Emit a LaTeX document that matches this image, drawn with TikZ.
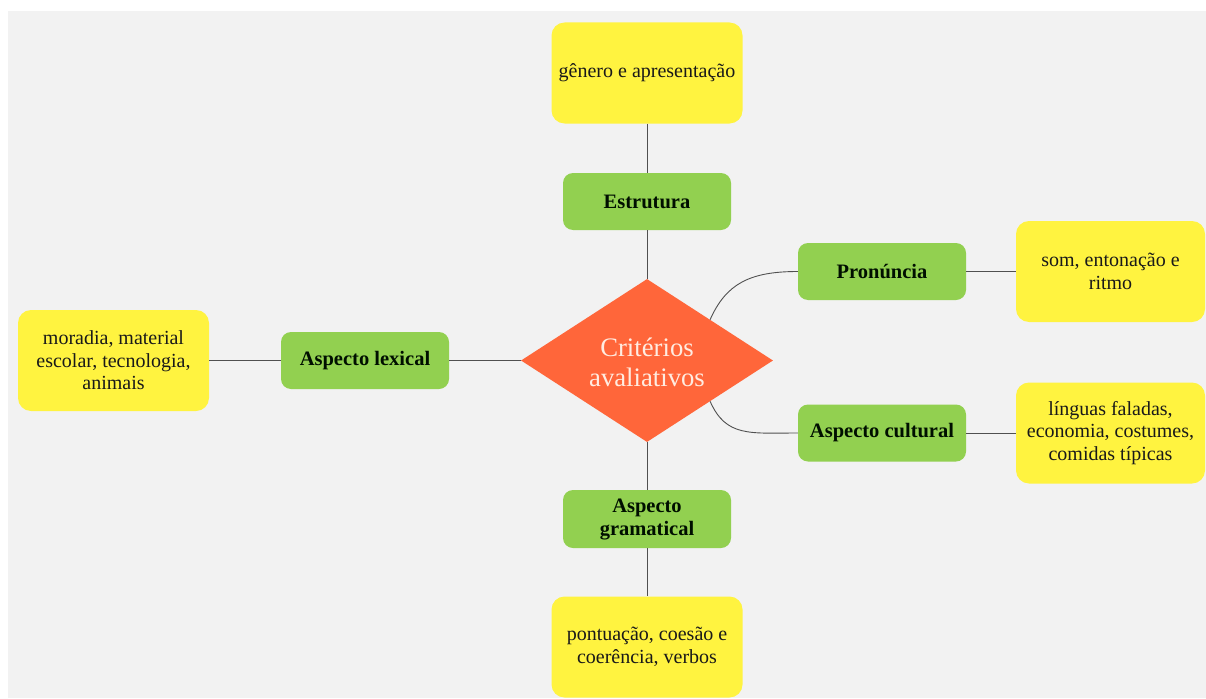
\documentclass[tikz,border=0pt]{standalone}
\usepackage{fontspec}
\setmainfont{Liberation Serif}
\newfontfamily\diagserif{Liberation Serif}
\usetikzlibrary{shapes.geometric}
\definecolor{bgray}{HTML}{F2F2F2}
\definecolor{leafyellow}{RGB}{255,243,64}
\definecolor{branchgreen}{RGB}{146,208,80}
\definecolor{huborange}{RGB}{255,102,58}
\definecolor{huptext}{RGB}{255,236,225}
\definecolor{linkgray}{RGB}{80,80,80}
\begin{document}
\begin{tikzpicture}[x=1pt,y=-1pt,
  leaf/.style={rectangle, rounded corners=13pt, fill=leafyellow, inner sep=0pt,
    minimum width=191pt, minimum height=101pt, align=center,
    font=\diagserif\fontsize{20}{22.5}\selectfont, text=black!90},
  branch/.style={rectangle, rounded corners=10pt, fill=branchgreen, inner sep=0pt,
    minimum width=168pt, minimum height=57pt, align=center,
    font=\diagserif\fontsize{20.5}{23}\selectfont\bfseries, text=black!85!green!40!black},
  hub/.style={diamond, fill=huborange, inner sep=0pt,
    minimum width=252pt, minimum height=163pt},
  link/.style={draw=linkgray, line width=0.9pt}]
  % page and backdrop
  \useasboundingbox (0,0) rectangle (1206,698);
  \fill[white] (0,0) rectangle (1206,698);
  \fill[bgray] (8,11) rectangle (1206,698);

  % central hub
  \node[hub] (crit) at (647,360.5) {};
  \node[align=center, text=huptext, font=\diagserif\fontsize{26.7}{30}\selectfont] (critlabel) at (647,362) {Critérios\\avaliativos};

  % branches
  \node[branch] (est)  at (647,201.5) {Estrutura};
  \node[branch] (pron) at (882,271.5) {Pronúncia};
  \node[branch] (cult) at (882,433) {Aspecto cultural};
  \node[branch] (lex)  at (365,360.5) {Aspecto lexical};
  \node[branch, minimum height=58pt] (gram) at (647,519) {Aspecto\\gramatical};

  % leaves
  \node[leaf] (gen)  at (647,73)      {gênero e apresentação};
  \node[leaf, minimum width=189pt] (som)  at (1110.5,271.5) {som, entonação e\\ritmo};
  \node[leaf, minimum width=189pt] (ling) at (1110.5,433) {línguas faladas,\\economia, costumes,\\comidas típicas};
  \node[leaf] (mor)  at (113.5,360.5) {moradia, material\\escolar, tecnologia,\\animais};
  \node[leaf] (pont) at (647,647)     {pontuação, coesão e\\coerência, verbos};

  % connectors
  \draw[link] (gen.south) -- (est.north);
  \draw[link] (est.south) -- (crit.north);
  \draw[link] (crit.west) -- (lex.east);
  \draw[link] (lex.west) -- (mor.east);
  \draw[link] (crit.south) -- (gram.north);
  \draw[link] (gram.south) -- (pont.north);
  \draw[link] (crit.north east) .. controls +(16,-36) and +(-48,0) .. (pron.west);
  \draw[link] (crit.south east) .. controls +(16,36) and +(-48,0) .. (cult.west);
  \draw[link] (pron.east) -- (som.west);
  \draw[link] (cult.east) -- (ling.west);
\end{tikzpicture}
\end{document}
